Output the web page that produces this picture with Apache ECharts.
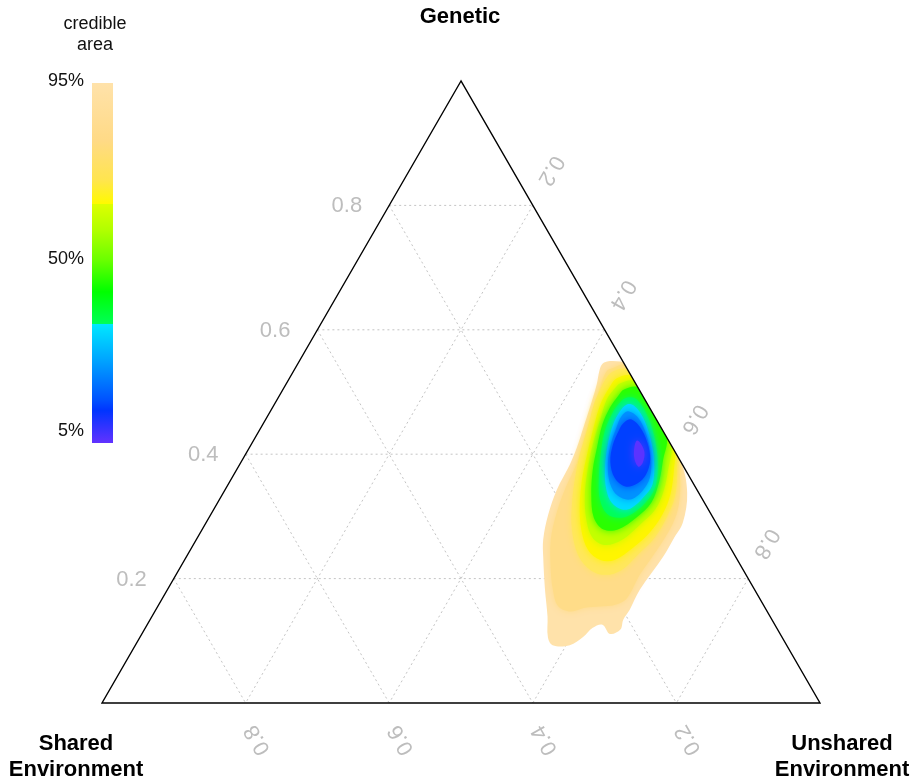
<!DOCTYPE html>
<html>
<head>
<meta charset="utf-8">
<script src="https://cdn.jsdelivr.net/npm/echarts@6/dist/echarts.min.js"></script>
<style>
html,body{margin:0;padding:0;background:#ffffff;}
#chart{width:914px;height:781px;}
</style>
</head>
<body>
<div id="chart"></div>
<script>
// ---------- data ----------
const tickValues = [0.2, 0.4, 0.6, 0.8];
const tickLabels = ['0.2', '0.4', '0.6', '0.8'];
const axisNames = { top: 'Genetic', left: 'Shared\nEnvironment', right: 'Unshared\nEnvironment' };
const legendTitle = 'credible\narea';
const legendTicks = ['95%', '50%', '5%'];

// credible-area levels (percent) of the nested density contours, outermost first
const creditLevels = [95, 80, 72, 65, 55, 45, 37, 33, 22, 14, 6];
const levelColors = ['#FFE2AA', '#FFDC88', '#FFE75C', '#FFF500', '#C4FF00', '#2AFF00', '#00FF58', '#00DCFF', '#0092FF', '#0040FF', '#5B33FF'];

// contour vertices as [genetic, unshared] proportions (shared = 1 - genetic - unshared)
const contour95 = [[0.544,0.424],[0.549,0.429],[0.549,0.447],[0.546,0.454],[0.467,0.533],[0.388,0.612],[0.338,0.646],[0.290,0.664],[0.263,0.664],[0.235,0.664],[0.182,0.658],[0.150,0.660],[0.134,0.659],[0.118,0.663],[0.111,0.652],[0.126,0.634],[0.121,0.623],[0.106,0.617],[0.093,0.605],[0.093,0.581],[0.106,0.568],[0.139,0.551],[0.182,0.526],[0.235,0.497],[0.263,0.483],[0.303,0.470],[0.343,0.462],[0.383,0.460],[0.411,0.456],[0.443,0.449],[0.475,0.442],[0.512,0.433],[0.533,0.426]];
const contour80 = [[0.533,0.436],[0.539,0.443],[0.543,0.457],[0.472,0.528],[0.399,0.601],[0.362,0.624],[0.319,0.644],[0.287,0.651],[0.246,0.650],[0.206,0.646],[0.169,0.647],[0.158,0.636],[0.155,0.616],[0.153,0.596],[0.147,0.579],[0.156,0.557],[0.182,0.537],[0.214,0.518],[0.262,0.494],[0.303,0.481],[0.343,0.473],[0.388,0.468],[0.432,0.457],[0.472,0.448],[0.507,0.440]];
const contour72 = [[0.520,0.441],[0.533,0.445],[0.535,0.465],[0.467,0.533],[0.404,0.596],[0.372,0.615],[0.332,0.632],[0.300,0.637],[0.267,0.637],[0.238,0.627],[0.214,0.617],[0.206,0.598],[0.214,0.573],[0.238,0.544],[0.279,0.515],[0.319,0.495],[0.359,0.479],[0.399,0.466],[0.440,0.456],[0.480,0.445],[0.504,0.442]];
const contour65 = [[0.507,0.453],[0.522,0.456],[0.525,0.475],[0.467,0.533],[0.407,0.593],[0.375,0.609],[0.335,0.624],[0.303,0.629],[0.275,0.626],[0.250,0.615],[0.230,0.599],[0.230,0.579],[0.246,0.554],[0.279,0.528],[0.319,0.506],[0.359,0.489],[0.399,0.476],[0.440,0.464],[0.480,0.454]];
const contour55 = [[0.504,0.461],[0.514,0.465],[0.517,0.483],[0.467,0.533],[0.415,0.585],[0.375,0.601],[0.340,0.612],[0.311,0.615],[0.287,0.606],[0.262,0.593],[0.254,0.573],[0.266,0.550],[0.295,0.527],[0.335,0.505],[0.375,0.489],[0.415,0.476],[0.456,0.466],[0.488,0.459]];
const contour45 = [[0.494,0.472],[0.504,0.475],[0.507,0.493],[0.467,0.533],[0.427,0.573],[0.391,0.586],[0.356,0.598],[0.322,0.604],[0.298,0.595],[0.279,0.579],[0.279,0.559],[0.298,0.536],[0.335,0.514],[0.375,0.496],[0.411,0.484],[0.448,0.473],[0.475,0.470]];
const contour37 = [[0.483,0.480],[0.491,0.486],[0.488,0.501],[0.459,0.531],[0.424,0.558],[0.388,0.580],[0.351,0.596],[0.327,0.597],[0.308,0.589],[0.298,0.575],[0.303,0.553],[0.327,0.530],[0.362,0.511],[0.399,0.495],[0.436,0.482],[0.464,0.478]];
const contour33 = [[0.480,0.491],[0.478,0.502],[0.459,0.524],[0.424,0.552],[0.386,0.576],[0.351,0.591],[0.332,0.589],[0.314,0.581],[0.311,0.569],[0.322,0.549],[0.343,0.531],[0.375,0.513],[0.415,0.497],[0.448,0.488],[0.469,0.487]];
const contour22 = [[0.469,0.498],[0.459,0.517],[0.432,0.542],[0.395,0.567],[0.362,0.582],[0.340,0.582],[0.327,0.572],[0.333,0.552],[0.353,0.531],[0.383,0.513],[0.415,0.501],[0.443,0.495],[0.461,0.493]];
const contour14 = [[0.456,0.508],[0.444,0.527],[0.419,0.550],[0.391,0.568],[0.367,0.574],[0.353,0.569],[0.348,0.555],[0.362,0.533],[0.388,0.514],[0.415,0.504],[0.436,0.501],[0.449,0.501]];
const contour6 = [[0.422,0.534],[0.417,0.542],[0.403,0.554],[0.386,0.560],[0.380,0.557],[0.393,0.545],[0.411,0.536]];
const contours = [contour95, contour80, contour72, contour65, contour55, contour45, contour37, contour33, contour22, contour14, contour6];

// ---------- helpers ----------
const H = Math.sqrt(3) / 2;
// ternary (genetic, unshared) -> cartesian; Shared at (0,0), Unshared at (1,0), Genetic at (0.5,H)
function toXY(g, e) { return [e + g / 2, g * H]; }

const FONT = '"Liberation Sans", Arial, Helvetica, sans-serif';
const tickColor = '#BDBDBD';

const chart = echarts.init(document.getElementById('chart'), null, { renderer: 'canvas' });

const option = {
  animation: false,
  backgroundColor: '#ffffff',
  grid: { left: 102, top: 81, width: 718, height: 622, containLabel: false },
  xAxis: { type: 'value', min: 0, max: 1, show: false },
  yAxis: { type: 'value', min: 0, max: H, show: false },
  series: [
    {
      // dotted ternary grid
      type: 'custom', coordinateSystem: 'cartesian2d', clip: false, silent: true, z: 1,
      data: tickValues.map(v => [v]),
      renderItem: function (params, api) {
        const v = tickValues[params.dataIndex];
        const P = (g, e) => api.coord(toXY(g, e));
        const seg = (a, b) => ({
          type: 'line', shape: { x1: a[0], y1: a[1], x2: b[0], y2: b[1] },
          style: { stroke: '#C4C4C4', lineWidth: 1, lineDash: [2, 3] }
        });
        return { type: 'group', children: [
          seg(P(v, 0), P(v, 1 - v)),
          seg(P(1 - v, 0), P(0, 1 - v)),
          seg(P(1 - v, v), P(0, v))
        ] };
      }
    },
    {
      // credible-area density contours
      type: 'custom', coordinateSystem: 'cartesian2d', clip: false, silent: true, z: 2,
      data: creditLevels.map(l => [l]),
      renderItem: function (params, api) {
        const i = params.dataIndex;
        const pts = contours[i].map(p => api.coord(toXY(p[0], p[1])));
        const blur = i === 0 ? 0 : (i <= 2 ? 7 : 9);
        return {
          type: 'polygon',
          shape: { points: pts, smooth: 0.35 },
          style: { fill: levelColors[i], stroke: null, shadowBlur: blur, shadowColor: levelColors[i] }
        };
      }
    },
    {
      // white mask outside the right edge of the simplex
      type: 'custom', coordinateSystem: 'cartesian2d', clip: false, silent: true, z: 3,
      data: [[0]],
      renderItem: function (params, api) {
        const pts = [api.coord(toXY(1, 0)), api.coord(toXY(0, 1)), api.coord([1.4, 0]), api.coord([1.4, H * 1.05]), api.coord([0.5, H * 1.05])];
        return { type: 'polygon', shape: { points: pts }, style: { fill: '#ffffff' } };
      }
    },
    {
      // simplex border
      type: 'custom', coordinateSystem: 'cartesian2d', clip: false, silent: true, z: 4,
      data: [[0]],
      renderItem: function (params, api) {
        const pts = [api.coord(toXY(1, 0)), api.coord(toXY(0, 0)), api.coord(toXY(0, 1))];
        return { type: 'polygon', shape: { points: pts }, style: { fill: null, stroke: '#000000', lineWidth: 1.4 } };
      }
    },
    {
      // tick labels for the three axes
      type: 'custom', coordinateSystem: 'cartesian2d', clip: false, silent: true, z: 5,
      data: tickValues.map(v => [v]),
      renderItem: function (params, api) {
        const v = tickValues[params.dataIndex];
        const lab = tickLabels[params.dataIndex];
        const P = (g, e) => api.coord(toXY(g, e));
        const gl = P(v, 0);
        const ur = P(1 - v, v);
        const sb = P(0, 1 - v);
        const st = (align) => ({ text: lab, fill: tickColor, font: '22px ' + FONT, align: align, verticalAlign: 'middle' });
        return { type: 'group', children: [
          { type: 'text', x: gl[0] - 27, y: gl[1] + 1, style: st('right') },
          { type: 'text', x: ur[0] + 18, y: ur[1] - 35, rotation: -2 * Math.PI / 3, style: st('center') },
          { type: 'text', x: sb[0] + 12, y: sb[1] + 37, rotation: 2 * Math.PI / 3, style: st('center') }
        ] };
      }
    }
  ],
  graphic: [
    { type: 'text', x: 460, y: 17, silent: true,
      style: { text: axisNames.top, font: 'bold 22px ' + FONT, fill: '#000', align: 'center', verticalAlign: 'middle' } },
    { type: 'text', x: 76, y: 757, silent: true,
      style: { text: axisNames.left, font: 'bold 22px ' + FONT, fill: '#000', align: 'center', verticalAlign: 'middle', lineHeight: 26 } },
    { type: 'text', x: 842, y: 757, silent: true,
      style: { text: axisNames.right, font: 'bold 22px ' + FONT, fill: '#000', align: 'center', verticalAlign: 'middle', lineHeight: 26 } },
    { type: 'text', x: 95, y: 35, silent: true,
      style: { text: legendTitle, font: '18px ' + FONT, fill: '#111', align: 'center', verticalAlign: 'middle', lineHeight: 21 } },
    { type: 'rect', x: 92, y: 83, silent: true, shape: { width: 21, height: 360 },
      style: { fill: new echarts.graphic.LinearGradient(0, 0, 0, 1, [
        { offset: 0, color: '#FFE2AA' },
        { offset: 0.16, color: '#FFDA86' },
        { offset: 0.27, color: '#FFE54E' },
        { offset: 0.335, color: '#FFFA00' },
        { offset: 0.337, color: '#DDFF00' },
        { offset: 0.41, color: '#B0FF00' },
        { offset: 0.49, color: '#6CFF00' },
        { offset: 0.58, color: '#00FF00' },
        { offset: 0.668, color: '#00FF55' },
        { offset: 0.67, color: '#00E8FF' },
        { offset: 0.77, color: '#00A4FF' },
        { offset: 0.88, color: '#0052FF' },
        { offset: 0.91, color: '#0034FF' },
        { offset: 1, color: '#6232FF' }
      ]) } },
    { type: 'text', x: 84, y: 81, silent: true,
      style: { text: legendTicks[0], font: '18px ' + FONT, fill: '#111', align: 'right', verticalAlign: 'middle' } },
    { type: 'text', x: 84, y: 259, silent: true,
      style: { text: legendTicks[1], font: '18px ' + FONT, fill: '#111', align: 'right', verticalAlign: 'middle' } },
    { type: 'text', x: 84, y: 431, silent: true,
      style: { text: legendTicks[2], font: '18px ' + FONT, fill: '#111', align: 'right', verticalAlign: 'middle' } }
  ]
};

chart.setOption(option);
</script>
</body>
</html>
